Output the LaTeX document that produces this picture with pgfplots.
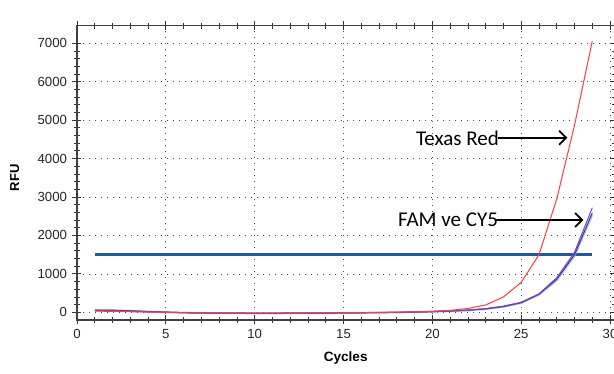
\documentclass[border=0pt]{standalone}
\usepackage{pgfplots}
\pgfplotsset{compat=1.18}
\usetikzlibrary{arrows.meta}
\usepackage{fontspec}
\setmainfont{Liberation Sans}
\newfontfamily\calibri{Carlito}
\definecolor{thr}{HTML}{1F5B99}
\definecolor{redc}{HTML}{FF3B3B}
\definecolor{bluec}{HTML}{2C45A8}
\definecolor{purc}{HTML}{8A38B0}
\definecolor{lbc}{HTML}{7FAEDB}
\begin{document}
\begin{tikzpicture}
\useasboundingbox (-77pt,-54pt) rectangle (537pt,320pt);
\begin{axis}[
  scale only axis, width=537.5pt, height=294.3pt,
  xmin=0, xmax=30.25, ymin=-200, ymax=7458,
  xtick={0,5,...,30}, minor xtick={1,2,3,4,6,7,8,9,11,12,13,14,16,17,18,19,21,22,23,24,26,27,28,29},
  ytick={0,1000,...,7000}, minor y tick num=4,
  tick align=center, major tick length=9pt, minor tick length=6pt,
  every tick/.style={black!80, line width=0.8pt},
  axis line style={black!75, line width=1.2pt},
  grid=major, grid style={black!70, line width=0.7pt, dash pattern=on 1pt off 5pt},
  /pgf/number format/assume math mode=true,
  /pgf/number format/1000 sep={},
  tick label style={font=\fontsize{13.2}{15}\selectfont, black!85},
  yticklabel style={xshift=-2pt},
  xticklabel style={yshift=-1pt},
  xlabel={\bfseries Cycles}, xlabel style={font=\fontsize{13.5}{15}\selectfont, at={(axis description cs:0.5,-0.129)}, anchor=center},
  ylabel={\bfseries RFU}, ylabel style={font=\fontsize{13}{15}\selectfont, at={(axis description cs:-0.116,0.483)}, anchor=center},
]
\addplot[thr, line width=2.6pt] coordinates {(1,1500) (29,1500)};
\addplot[lbc, line width=2pt, opacity=0.8] coordinates {
(1,55) (2,50) (3,38) (4,18) (5,4) (6,-10) (7,-18) (8,-22) (9,-24) (10,-25) (11,-25) (12,-24) (13,-22) (14,-20) (15,-17) (16,-13) (17,-8) (18,-2) (19,6) (20,16) (21,30) (22,50) (23,85) (24,145) (25,245) (26,460) (27,840) (28,1470) (29,2540)};
\addplot[bluec, line width=1pt] coordinates {
(1,60) (2,55) (3,40) (4,20) (5,5) (6,-10) (7,-18) (8,-22) (9,-24) (10,-25) (11,-25) (12,-24) (13,-22) (14,-20) (15,-17) (16,-13) (17,-8) (18,-2) (19,6) (20,18) (21,32) (22,55) (23,90) (24,150) (25,250) (26,470) (27,860) (28,1500) (29,2590)};
\addplot[purc, line width=1pt] coordinates {
(1,45) (2,42) (3,32) (4,16) (5,3) (6,-8) (7,-15) (8,-20) (9,-22) (10,-23) (11,-23) (12,-22) (13,-20) (14,-18) (15,-15) (16,-11) (17,-6) (18,0) (19,8) (20,20) (21,35) (22,58) (23,95) (24,160) (25,260) (26,480) (27,900) (28,1560) (29,2720)};
\addplot[redc, line width=1pt] coordinates {
(1,30) (2,25) (3,15) (4,5) (5,-2) (6,-10) (7,-15) (8,-18) (9,-20) (10,-20) (11,-20) (12,-19) (13,-17) (14,-15) (15,-12) (16,-8) (17,-4) (18,2) (19,10) (20,25) (21,50) (22,100) (23,190) (24,400) (25,780) (26,1500) (27,2950) (28,4870) (29,7060)};
\node[font=\bfseries\fontsize{12}{14}\selectfont] at (rel axis cs:0.501,1.05) {Amplification};
\node[anchor=east, inner sep=0pt, font=\calibri\fontsize{21}{23}\selectfont] at (axis cs:23.75,4540) {Texas Red};
\draw[-{Straight Barb[length=7pt,width=14pt]}, line width=1.8pt] (axis cs:23.7,4540) -- (axis cs:27.6,4540);
\node[anchor=east, inner sep=0pt, font=\calibri\fontsize{21}{23}\selectfont] at (axis cs:23.7,2400) {FAM ve CY5};
\draw[-{Straight Barb[length=7pt,width=14pt]}, line width=1.8pt] (axis cs:23.6,2400) -- (axis cs:28.5,2400);
\end{axis}
\end{tikzpicture}
\end{document}
